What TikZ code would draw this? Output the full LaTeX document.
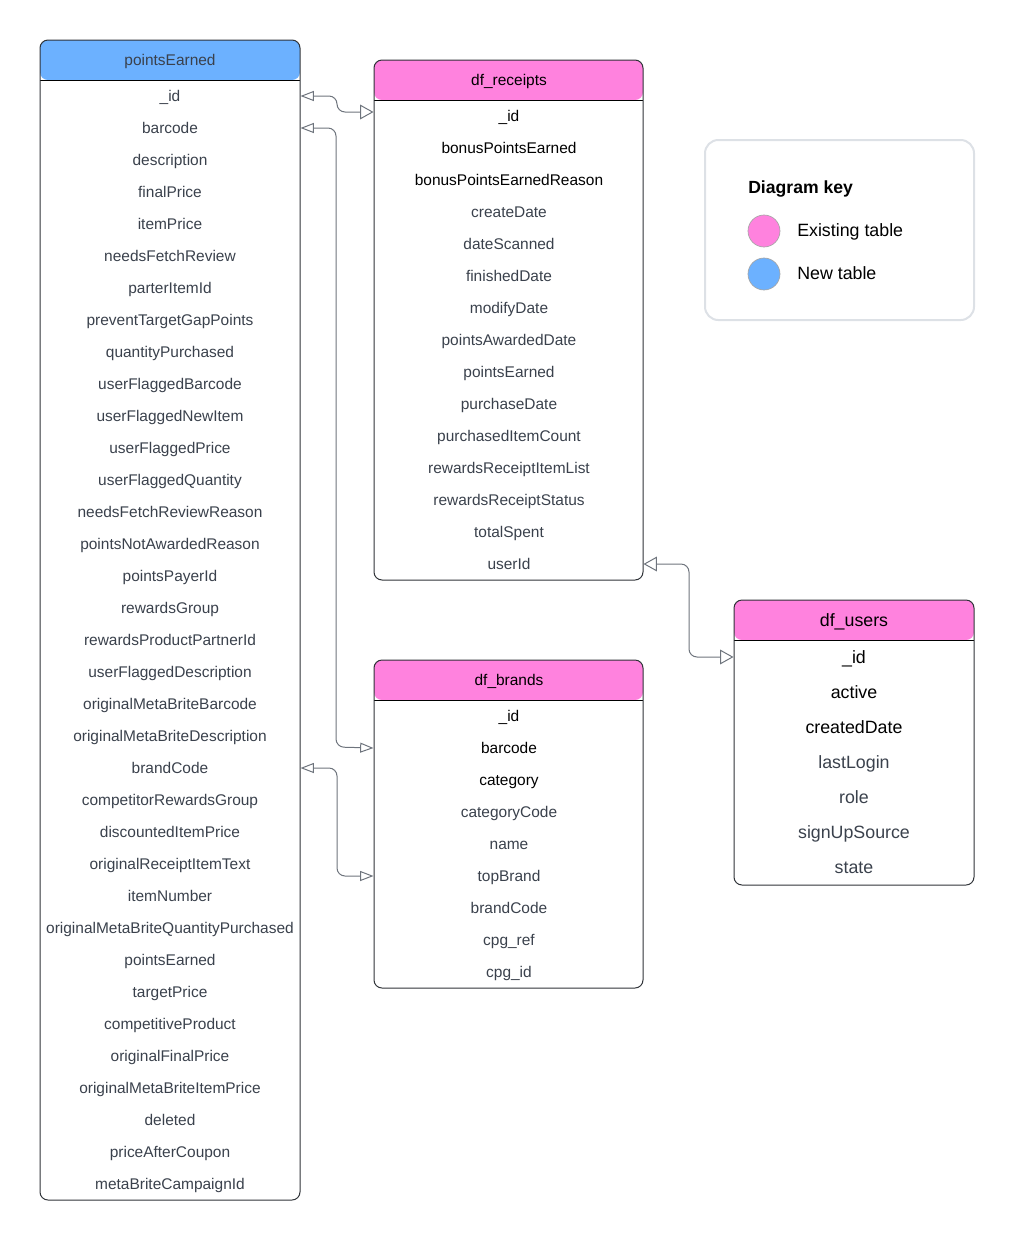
\documentclass[tikz,border=0pt]{standalone}
\usepackage{fontspec}
\setmainfont{Liberation Sans}
\usetikzlibrary{arrows.meta,calc}
\definecolor{hblue}{HTML}{6CB1FF}
\definecolor{hpink}{HTML}{FF82DE}
\definecolor{txtg}{HTML}{3A414C}
\definecolor{lineg}{HTML}{6E747D}
\definecolor{keyb}{HTML}{DDE1E6}
\definecolor{tblb}{HTML}{2F3338}
\def\PX{0.75pt}
\begin{document}
\begin{tikzpicture}[x=0.75pt,y=-0.75pt,
  tbl/.style={draw=tblb, line width=0.75pt, rounded corners=6pt, inner sep=0pt,
    path picture={\fill[#1] (path picture bounding box.north west) rectangle ([yshift=-30pt]path picture bounding box.north east);
      \draw[line width=0.7pt, black] ([yshift=-30pt]path picture bounding box.north west) -- ([yshift=-30pt]path picture bounding box.north east);}},
  rowtxt/.style={font=\fontsize{11.6}{13}\selectfont, text=txtg, inner sep=0pt, text height=8.3pt, text depth=0pt},
  bigtxt/.style={font=\fontsize{13.35}{16}\selectfont, text=txtg, inner sep=0pt, text height=9.6pt, text depth=0pt},
  conn/.style={draw=lineg, line width=0.75pt, rounded corners=6pt},
  lss/.style={conn, arrows={Triangle[open,length=10pt,width=7.5pt]-Triangle[open,length=10pt,width=7.5pt]}},
  lsb/.style={conn, arrows={Triangle[open,length=10pt,width=7.5pt]-Triangle[open,length=10pt,width=11pt]}},
  lbb/.style={conn, arrows={Triangle[open,length=10pt,width=11pt]-Triangle[open,length=10pt,width=11pt]}},
]
\useasboundingbox (0,0) rectangle (1014,1240);

% ---------- pointsEarned ----------
\node[tbl=hblue, minimum width=260*\PX, minimum height=1160*\PX] (pe) at (170,620) {};
\node[rowtxt] (pe-h) at (170,60) {pointsEarned};
\foreach \t [count=\i] in {\_id, barcode, description, finalPrice, itemPrice, needsFetchReview, parterItemId, preventTargetGapPoints, quantityPurchased, userFlaggedBarcode, userFlaggedNewItem, userFlaggedPrice, userFlaggedQuantity, needsFetchReviewReason, pointsNotAwardedReason, pointsPayerId, rewardsGroup, rewardsProductPartnerId, userFlaggedDescription, originalMetaBriteBarcode, originalMetaBriteDescription, brandCode, competitorRewardsGroup, discountedItemPrice, originalReceiptItemText, itemNumber, originalMetaBriteQuantityPurchased, pointsEarned, targetPrice, competitiveProduct, originalFinalPrice, originalMetaBriteItemPrice, deleted, priceAfterCoupon, metaBriteCampaignId}
  \node[rowtxt] (pe-\i) at (170,{96+32*(\i-1)}) {\t};

% ---------- df_receipts ----------
\node[tbl=hpink, minimum width=269*\PX, minimum height=520*\PX] (rc) at (508.5,320) {};
\node[rowtxt, text=black] (rc-h) at (509,80) {df\_receipts};
\foreach \t [count=\i] in {\_id, bonusPointsEarned, bonusPointsEarnedReason, createDate, dateScanned, finishedDate, modifyDate, pointsAwardedDate, pointsEarned, purchaseDate, purchasedItemCount, rewardsReceiptItemList, rewardsReceiptStatus, totalSpent, userId}{
  \ifnum\i<4 \def\tc{black}\else\def\tc{txtg}\fi
  \node[rowtxt, text=\tc] (rc-\i) at (509,{116+32*(\i-1)}) {\t};
}

% ---------- df_brands ----------
\node[tbl=hpink, minimum width=269*\PX, minimum height=328*\PX] (br) at (508.5,824) {};
\node[rowtxt, text=black] (br-h) at (509,680) {df\_brands};
\foreach \t [count=\i] in {\_id, barcode, category, categoryCode, name, topBrand, brandCode, cpg\_ref, cpg\_id}{
  \ifnum\i<4 \def\tc{black}\else\def\tc{txtg}\fi
  \node[rowtxt, text=\tc] (br-\i) at (509,{716+32*(\i-1)}) {\t};
}

% ---------- df_users ----------
\node[tbl=hpink, minimum width=240*\PX, minimum height=285*\PX] (us) at (854,742.5) {};
\node[bigtxt, text=black] (us-h) at (854,620) {df\_users};
\foreach \t [count=\i] in {\_id, active, createdDate, lastLogin, role, signUpSource, state}{
  \ifnum\i<4 \def\tc{black}\else\def\tc{txtg}\fi
  \node[bigtxt, text=\tc] (us-\i) at (854,{657+35*(\i-1)}) {\t};
}

% ---------- key ----------
\node[draw=keyb, line width=1.5pt, rounded corners=10pt, minimum width=269*\PX, minimum height=180*\PX] (key) at (839.5,230) {};
\node[bigtxt, text=black, font=\fontsize{13.2}{16}\selectfont\bfseries, anchor=west] (key-t) at (748,187) {Diagram key};
\node[circle, fill=hpink, draw=gray!70, line width=0.5pt, minimum size=32*\PX, inner sep=0pt] (key-c1) at (764,231) {};
\node[circle, fill=hblue, draw=gray!70, line width=0.5pt, minimum size=32*\PX, inner sep=0pt] (key-c2) at (764,274) {};
\node[bigtxt, text=black, anchor=west] (key-l1) at (797,230) {Existing table};
\node[bigtxt, text=black, anchor=west] (key-l2) at (797,273) {New table};

% ---------- connectors ----------
\coordinate (rcin) at ($(rc.west |- rc-1)+(0,-4)$);
\draw[lsb] (pe.east |- pe-1) -- (337,96) -- (337,112) -- (rcin);
\draw[lss] (pe.east |- pe-2) -- (336,128) -- (336,747) -- (br.west |- br-2);
\draw[lss] (pe.east |- pe-22) -- (337,768) -- (337,876) -- (br.west |- br-6);
\draw[lbb] (rc.east |- rc-15) -- (689,564) -- (689,657) -- (us.west |- us-1);
\end{tikzpicture}
\end{document}
